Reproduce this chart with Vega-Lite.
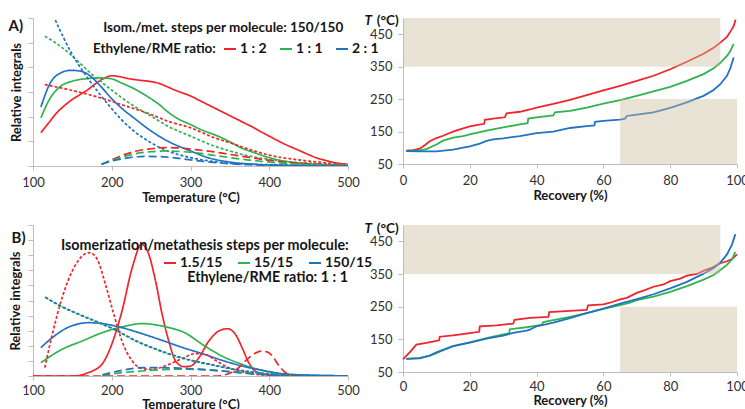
{
"$schema": "https://vega.github.io/schema/vega-lite/v6.json",
"autosize": {"type": "pad"},
"padding": {"left": 8, "top": 14, "right": 0, "bottom": 0},
"background": "white",
"bounds": "flush",
"columns": 2,
"align": "each",
"spacing": {"row": 59, "column": 55},
"config": {
  "view": {"stroke": null},
  "axis": {"grid": false, "labelOverlap": false, "labelBound": false, "labelFlush": false, "domainColor": "#bdbdbd", "tickColor": "#bdbdbd", "labelFont": "Lato", "labelFontSize": 13, "labelColor": "#303030", "titleFont": "Lato", "titleFontSize": 13, "titleFontWeight": "bold", "titleColor": "#151515", "tickSize": 4},
  "text": {"font": "Lato", "fontSize": 13.5, "fontWeight": "bold", "color": "#151515"},
  "legend": {"titleFont": "Lato", "titleFontSize": 13.5, "titleFontWeight": "bold", "titleColor": "#151515", "labelFont": "Lato", "labelFontSize": 14, "labelFontWeight": "bold", "labelColor": "#151515", "symbolType": "stroke", "symbolSize": 144, "symbolStrokeWidth": 2, "labelOffset": 3, "padding": 0}
},
"resolve": {"scale": {"color": "independent", "strokeDash": "independent"}, "legend": {"color": "independent"}},
"datasets": {
"a": [
{"s":"1 : 2","k":"s","t":110,"v":1.35},{"s":"1 : 2","k":"s","t":120,"v":1.75},{"s":"1 : 2","k":"s","t":130,"v":2.15},{"s":"1 : 2","k":"s","t":140,"v":2.45},{"s":"1 : 2","k":"s","t":150,"v":2.7},{"s":"1 : 2","k":"s","t":160,"v":2.9},{"s":"1 : 2","k":"s","t":170,"v":3.1},{"s":"1 : 2","k":"s","t":180,"v":3.35},{"s":"1 : 2","k":"s","t":190,"v":3.55},{"s":"1 : 2","k":"s","t":200,"v":3.66},{"s":"1 : 2","k":"s","t":210,"v":3.62},{"s":"1 : 2","k":"s","t":220,"v":3.55},{"s":"1 : 2","k":"s","t":230,"v":3.5},{"s":"1 : 2","k":"s","t":240,"v":3.46},{"s":"1 : 2","k":"s","t":250,"v":3.42},{"s":"1 : 2","k":"s","t":260,"v":3.35},{"s":"1 : 2","k":"s","t":270,"v":3.22},{"s":"1 : 2","k":"s","t":280,"v":3.08},{"s":"1 : 2","k":"s","t":290,"v":2.96},{"s":"1 : 2","k":"s","t":300,"v":2.84},{"s":"1 : 2","k":"s","t":310,"v":2.68},{"s":"1 : 2","k":"s","t":320,"v":2.52},{"s":"1 : 2","k":"s","t":330,"v":2.36},{"s":"1 : 2","k":"s","t":340,"v":2.2},{"s":"1 : 2","k":"s","t":350,"v":2.04},{"s":"1 : 2","k":"s","t":360,"v":1.88},{"s":"1 : 2","k":"s","t":370,"v":1.72},{"s":"1 : 2","k":"s","t":380,"v":1.56},{"s":"1 : 2","k":"s","t":390,"v":1.38},{"s":"1 : 2","k":"s","t":400,"v":1.21},{"s":"1 : 2","k":"s","t":410,"v":1.04},{"s":"1 : 2","k":"s","t":420,"v":0.88},{"s":"1 : 2","k":"s","t":430,"v":0.74},{"s":"1 : 2","k":"s","t":440,"v":0.6},{"s":"1 : 2","k":"s","t":450,"v":0.46},{"s":"1 : 2","k":"s","t":460,"v":0.33},{"s":"1 : 2","k":"s","t":470,"v":0.24},{"s":"1 : 2","k":"s","t":480,"v":0.16},{"s":"1 : 2","k":"s","t":490,"v":0.1},{"s":"1 : 2","k":"s","t":500,"v":0.06},
{"s":"1 : 1","k":"s","t":110,"v":1.95},{"s":"1 : 1","k":"s","t":122,"v":2.76},{"s":"1 : 1","k":"s","t":135,"v":3.23},{"s":"1 : 1","k":"s","t":150,"v":3.44},{"s":"1 : 1","k":"s","t":165,"v":3.53},{"s":"1 : 1","k":"s","t":186,"v":3.57},{"s":"1 : 1","k":"s","t":199,"v":3.54},{"s":"1 : 1","k":"s","t":212,"v":3.37},{"s":"1 : 1","k":"s","t":228,"v":3.14},{"s":"1 : 1","k":"s","t":250,"v":2.72},{"s":"1 : 1","k":"s","t":260,"v":2.5},{"s":"1 : 1","k":"s","t":271,"v":2.2},{"s":"1 : 1","k":"s","t":285,"v":1.9},{"s":"1 : 1","k":"s","t":300,"v":1.68},{"s":"1 : 1","k":"s","t":313,"v":1.48},{"s":"1 : 1","k":"s","t":335,"v":1.21},{"s":"1 : 1","k":"s","t":350,"v":0.98},{"s":"1 : 1","k":"s","t":364,"v":0.74},{"s":"1 : 1","k":"s","t":381,"v":0.54},{"s":"1 : 1","k":"s","t":400,"v":0.34},{"s":"1 : 1","k":"s","t":419,"v":0.2},{"s":"1 : 1","k":"s","t":435,"v":0.13},{"s":"1 : 1","k":"s","t":450,"v":0.09},{"s":"1 : 1","k":"s","t":475,"v":0.05},{"s":"1 : 1","k":"s","t":500,"v":0.03},
{"s":"2 : 1","k":"s","t":110,"v":2.39},{"s":"2 : 1","k":"s","t":122,"v":3.37},{"s":"2 : 1","k":"s","t":135,"v":3.77},{"s":"2 : 1","k":"s","t":148,"v":3.88},{"s":"2 : 1","k":"s","t":161,"v":3.84},{"s":"2 : 1","k":"s","t":173,"v":3.64},{"s":"2 : 1","k":"s","t":186,"v":3.23},{"s":"2 : 1","k":"s","t":199,"v":2.76},{"s":"2 : 1","k":"s","t":212,"v":2.36},{"s":"2 : 1","k":"s","t":228,"v":1.95},{"s":"2 : 1","k":"s","t":250,"v":1.42},{"s":"2 : 1","k":"s","t":271,"v":1.01},{"s":"2 : 1","k":"s","t":300,"v":0.61},{"s":"2 : 1","k":"s","t":322,"v":0.34},{"s":"2 : 1","k":"s","t":350,"v":0.16},{"s":"2 : 1","k":"s","t":381,"v":0.07},{"s":"2 : 1","k":"s","t":400,"v":0.04},{"s":"2 : 1","k":"s","t":450,"v":0.02},{"s":"2 : 1","k":"s","t":500,"v":0.01},
{"s":"1 : 2","k":"d","t":115,"v":3.3},{"s":"1 : 2","k":"d","t":150,"v":3.06},{"s":"1 : 2","k":"d","t":186,"v":2.76},{"s":"1 : 2","k":"d","t":212,"v":2.49},{"s":"1 : 2","k":"d","t":250,"v":2.09},{"s":"1 : 2","k":"d","t":271,"v":1.82},{"s":"1 : 2","k":"d","t":300,"v":1.55},{"s":"1 : 2","k":"d","t":330,"v":1.15},{"s":"1 : 2","k":"d","t":350,"v":0.94},{"s":"1 : 2","k":"d","t":381,"v":0.61},{"s":"1 : 2","k":"d","t":400,"v":0.44},{"s":"1 : 2","k":"d","t":432,"v":0.27},{"s":"1 : 2","k":"d","t":450,"v":0.2},{"s":"1 : 2","k":"d","t":475,"v":0.12},{"s":"1 : 2","k":"d","t":500,"v":0.07},
{"s":"1 : 1","k":"d","t":115,"v":5.26},{"s":"1 : 1","k":"d","t":135,"v":4.85},{"s":"1 : 1","k":"d","t":150,"v":4.45},{"s":"1 : 1","k":"d","t":173,"v":3.77},{"s":"1 : 1","k":"d","t":199,"v":3.1},{"s":"1 : 1","k":"d","t":228,"v":2.43},{"s":"1 : 1","k":"d","t":250,"v":2.02},{"s":"1 : 1","k":"d","t":271,"v":1.62},{"s":"1 : 1","k":"d","t":300,"v":1.21},{"s":"1 : 1","k":"d","t":330,"v":0.81},{"s":"1 : 1","k":"d","t":350,"v":0.61},{"s":"1 : 1","k":"d","t":381,"v":0.36},{"s":"1 : 1","k":"d","t":400,"v":0.27},{"s":"1 : 1","k":"d","t":432,"v":0.15},{"s":"1 : 1","k":"d","t":450,"v":0.12},{"s":"1 : 1","k":"d","t":475,"v":0.07},{"s":"1 : 1","k":"d","t":500,"v":0.04},
{"s":"2 : 1","k":"d","t":122,"v":6.5},{"s":"2 : 1","k":"d","t":127,"v":6.04},{"s":"2 : 1","k":"d","t":139,"v":5.19},{"s":"2 : 1","k":"d","t":150,"v":4.51},{"s":"2 : 1","k":"d","t":165,"v":3.77},{"s":"2 : 1","k":"d","t":182,"v":3.03},{"s":"2 : 1","k":"d","t":199,"v":2.36},{"s":"2 : 1","k":"d","t":212,"v":1.89},{"s":"2 : 1","k":"d","t":228,"v":1.42},{"s":"2 : 1","k":"d","t":250,"v":0.94},{"s":"2 : 1","k":"d","t":271,"v":0.61},{"s":"2 : 1","k":"d","t":300,"v":0.34},{"s":"2 : 1","k":"d","t":330,"v":0.18},{"s":"2 : 1","k":"d","t":350,"v":0.11},{"s":"2 : 1","k":"d","t":400,"v":0.05},{"s":"2 : 1","k":"d","t":450,"v":0.02},{"s":"2 : 1","k":"d","t":500,"v":0.01},
{"s":"1 : 2","k":"l","t":187,"v":0.07},{"s":"1 : 2","k":"l","t":200,"v":0.25},{"s":"1 : 2","k":"l","t":215,"v":0.45},{"s":"1 : 2","k":"l","t":230,"v":0.6},{"s":"1 : 2","k":"l","t":250,"v":0.7},{"s":"1 : 2","k":"l","t":270,"v":0.75},{"s":"1 : 2","k":"l","t":290,"v":0.72},{"s":"1 : 2","k":"l","t":310,"v":0.65},{"s":"1 : 2","k":"l","t":330,"v":0.57},{"s":"1 : 2","k":"l","t":350,"v":0.47},{"s":"1 : 2","k":"l","t":375,"v":0.35},{"s":"1 : 2","k":"l","t":400,"v":0.23},{"s":"1 : 2","k":"l","t":425,"v":0.14},{"s":"1 : 2","k":"l","t":450,"v":0.09},{"s":"1 : 2","k":"l","t":475,"v":0.05},{"s":"1 : 2","k":"l","t":500,"v":0.02},
{"s":"1 : 1","k":"l","t":187,"v":0.07},{"s":"1 : 1","k":"l","t":200,"v":0.22},{"s":"1 : 1","k":"l","t":215,"v":0.38},{"s":"1 : 1","k":"l","t":230,"v":0.5},{"s":"1 : 1","k":"l","t":250,"v":0.58},{"s":"1 : 1","k":"l","t":270,"v":0.61},{"s":"1 : 1","k":"l","t":290,"v":0.58},{"s":"1 : 1","k":"l","t":310,"v":0.52},{"s":"1 : 1","k":"l","t":330,"v":0.43},{"s":"1 : 1","k":"l","t":350,"v":0.34},{"s":"1 : 1","k":"l","t":375,"v":0.24},{"s":"1 : 1","k":"l","t":400,"v":0.16},{"s":"1 : 1","k":"l","t":425,"v":0.1},{"s":"1 : 1","k":"l","t":450,"v":0.06},{"s":"1 : 1","k":"l","t":500,"v":0.02},
{"s":"2 : 1","k":"l","t":187,"v":0.07},{"s":"2 : 1","k":"l","t":200,"v":0.2},{"s":"2 : 1","k":"l","t":215,"v":0.3},{"s":"2 : 1","k":"l","t":230,"v":0.37},{"s":"2 : 1","k":"l","t":245,"v":0.39},{"s":"2 : 1","k":"l","t":260,"v":0.38},{"s":"2 : 1","k":"l","t":280,"v":0.33},{"s":"2 : 1","k":"l","t":300,"v":0.25},{"s":"2 : 1","k":"l","t":325,"v":0.16},{"s":"2 : 1","k":"l","t":350,"v":0.09},{"s":"2 : 1","k":"l","t":375,"v":0.05},{"s":"2 : 1","k":"l","t":400,"v":0.03},{"s":"2 : 1","k":"l","t":450,"v":0.01},{"s":"2 : 1","k":"l","t":500,"v":0}
],
"b": [
{"s":"1.5/15","k":"s","t":100,"v":0},{"s":"1.5/15","k":"s","t":150,"v":0},{"s":"1.5/15","k":"s","t":160,"v":0.05},{"s":"1.5/15","k":"s","t":170,"v":0.22},{"s":"1.5/15","k":"s","t":180,"v":0.45},{"s":"1.5/15","k":"s","t":188,"v":0.8},{"s":"1.5/15","k":"s","t":200,"v":2.1},{"s":"1.5/15","k":"s","t":213,"v":4.3},{"s":"1.5/15","k":"s","t":226,"v":7.17},{"s":"1.5/15","k":"s","t":238,"v":8.72},{"s":"1.5/15","k":"s","t":247,"v":8.06},{"s":"1.5/15","k":"s","t":255.6,"v":6.29},{"s":"1.5/15","k":"s","t":264,"v":4.08},{"s":"1.5/15","k":"s","t":272.5,"v":2.3},{"s":"1.5/15","k":"s","t":281,"v":1.0},{"s":"1.5/15","k":"s","t":291.5,"v":0.62},{"s":"1.5/15","k":"s","t":300,"v":0.66},{"s":"1.5/15","k":"s","t":310.6,"v":1.21},{"s":"1.5/15","k":"s","t":323,"v":2.3},{"s":"1.5/15","k":"s","t":336,"v":2.98},{"s":"1.5/15","k":"s","t":347,"v":3.13},{"s":"1.5/15","k":"s","t":357,"v":2.76},{"s":"1.5/15","k":"s","t":365.5,"v":1.88},{"s":"1.5/15","k":"s","t":374,"v":0.88},{"s":"1.5/15","k":"s","t":382,"v":0.33},{"s":"1.5/15","k":"s","t":395,"v":0.11},{"s":"1.5/15","k":"s","t":410,"v":0.02},{"s":"1.5/15","k":"s","t":500,"v":0},
{"s":"15/15","k":"s","t":110,"v":0.88},{"s":"15/15","k":"s","t":137,"v":1.77},{"s":"15/15","k":"s","t":162.6,"v":2.32},{"s":"15/15","k":"s","t":188,"v":2.87},{"s":"15/15","k":"s","t":213,"v":3.25},{"s":"15/15","k":"s","t":238.7,"v":3.47},{"s":"15/15","k":"s","t":264,"v":3.31},{"s":"15/15","k":"s","t":281,"v":3.09},{"s":"15/15","k":"s","t":291.5,"v":2.9},{"s":"15/15","k":"s","t":314.8,"v":2.1},{"s":"15/15","k":"s","t":340,"v":1.32},{"s":"15/15","k":"s","t":365.5,"v":0.77},{"s":"15/15","k":"s","t":391,"v":0.38},{"s":"15/15","k":"s","t":416,"v":0.15},{"s":"15/15","k":"s","t":450,"v":0.05},{"s":"15/15","k":"s","t":500,"v":0.01},
{"s":"150/15","k":"s","t":110,"v":1.88},{"s":"150/15","k":"s","t":124.5,"v":2.54},{"s":"150/15","k":"s","t":145.7,"v":3.25},{"s":"150/15","k":"s","t":171,"v":3.53},{"s":"150/15","k":"s","t":188,"v":3.47},{"s":"150/15","k":"s","t":213,"v":3.2},{"s":"150/15","k":"s","t":238.7,"v":2.8},{"s":"150/15","k":"s","t":264,"v":2.36},{"s":"150/15","k":"s","t":289,"v":1.9},{"s":"150/15","k":"s","t":314.8,"v":1.48},{"s":"150/15","k":"s","t":340,"v":1.04},{"s":"150/15","k":"s","t":365.5,"v":0.66},{"s":"150/15","k":"s","t":391,"v":0.38},{"s":"150/15","k":"s","t":416,"v":0.15},{"s":"150/15","k":"s","t":441.7,"v":0.07},{"s":"150/15","k":"s","t":470,"v":0.03},{"s":"150/15","k":"s","t":500,"v":0.01},
{"s":"1.5/15","k":"d","t":115,"v":0.55},{"s":"1.5/15","k":"d","t":124.5,"v":2.76},{"s":"1.5/15","k":"d","t":137,"v":5.19},{"s":"1.5/15","k":"d","t":152,"v":7.17},{"s":"1.5/15","k":"d","t":162.6,"v":7.95},{"s":"1.5/15","k":"d","t":172,"v":8.17},{"s":"1.5/15","k":"d","t":181.6,"v":7.73},{"s":"1.5/15","k":"d","t":192,"v":6.07},{"s":"1.5/15","k":"d","t":202.7,"v":4.08},{"s":"1.5/15","k":"d","t":213,"v":2.32},{"s":"1.5/15","k":"d","t":226,"v":0.99},{"s":"1.5/15","k":"d","t":238.7,"v":0.49},{"s":"1.5/15","k":"d","t":251,"v":0.44},{"s":"1.5/15","k":"d","t":272.5,"v":0.77},{"s":"1.5/15","k":"d","t":291.5,"v":1.21},{"s":"1.5/15","k":"d","t":306,"v":1.48},{"s":"1.5/15","k":"d","t":319,"v":1.43},{"s":"1.5/15","k":"d","t":331.7,"v":1.04},{"s":"1.5/15","k":"d","t":348.6,"v":0.55},{"s":"1.5/15","k":"d","t":365.5,"v":0.29},{"s":"1.5/15","k":"d","t":382,"v":0.11},{"s":"1.5/15","k":"d","t":420,"v":0.02},
{"s":"15/15","k":"d","t":115,"v":5.23},{"s":"15/15","k":"d","t":137,"v":4.57},{"s":"15/15","k":"d","t":162.6,"v":3.97},{"s":"15/15","k":"d","t":188,"v":3.42},{"s":"15/15","k":"d","t":207,"v":2.98},{"s":"15/15","k":"d","t":230,"v":2.32},{"s":"15/15","k":"d","t":255.6,"v":1.77},{"s":"15/15","k":"d","t":281,"v":1.3},{"s":"15/15","k":"d","t":300,"v":1.02},{"s":"15/15","k":"d","t":325,"v":0.75},{"s":"15/15","k":"d","t":350,"v":0.48},{"s":"15/15","k":"d","t":375,"v":0.27},{"s":"15/15","k":"d","t":400,"v":0.13},{"s":"15/15","k":"d","t":425,"v":0.05},{"s":"15/15","k":"d","t":450,"v":0.02},
{"s":"150/15","k":"d","t":116,"v":5.2},{"s":"150/15","k":"d","t":137,"v":4.6},{"s":"150/15","k":"d","t":162.6,"v":4.0},{"s":"150/15","k":"d","t":188,"v":3.45},{"s":"150/15","k":"d","t":207,"v":3.0},{"s":"150/15","k":"d","t":230,"v":2.36},{"s":"150/15","k":"d","t":255.6,"v":1.8},{"s":"150/15","k":"d","t":281,"v":1.34},{"s":"150/15","k":"d","t":300,"v":1.06},{"s":"150/15","k":"d","t":325,"v":0.78},{"s":"150/15","k":"d","t":350,"v":0.5},{"s":"150/15","k":"d","t":375,"v":0.29},{"s":"150/15","k":"d","t":400,"v":0.14},{"s":"150/15","k":"d","t":425,"v":0.06},{"s":"150/15","k":"d","t":450,"v":0.02},
{"s":"1.5/15","k":"l","t":100,"v":0},{"s":"1.5/15","k":"l","t":330,"v":0},{"s":"1.5/15","k":"l","t":345,"v":0.1},{"s":"1.5/15","k":"l","t":360,"v":0.5},{"s":"1.5/15","k":"l","t":372,"v":1.1},{"s":"1.5/15","k":"l","t":382,"v":1.5},{"s":"1.5/15","k":"l","t":390,"v":1.65},{"s":"1.5/15","k":"l","t":398,"v":1.58},{"s":"1.5/15","k":"l","t":405,"v":1.25},{"s":"1.5/15","k":"l","t":412,"v":0.7},{"s":"1.5/15","k":"l","t":420,"v":0.25},{"s":"1.5/15","k":"l","t":428,"v":0.04},{"s":"1.5/15","k":"l","t":440,"v":0},
{"s":"15/15","k":"l","t":188,"v":0.03},{"s":"15/15","k":"l","t":213,"v":0.22},{"s":"15/15","k":"l","t":238.7,"v":0.33},{"s":"15/15","k":"l","t":264,"v":0.42},{"s":"15/15","k":"l","t":289,"v":0.46},{"s":"15/15","k":"l","t":315,"v":0.42},{"s":"15/15","k":"l","t":340,"v":0.33},{"s":"15/15","k":"l","t":365,"v":0.2},{"s":"15/15","k":"l","t":391,"v":0.1},{"s":"15/15","k":"l","t":420,"v":0.03},{"s":"15/15","k":"l","t":450,"v":0},
{"s":"150/15","k":"l","t":188,"v":0.07},{"s":"150/15","k":"l","t":213,"v":0.38},{"s":"150/15","k":"l","t":238.7,"v":0.55},{"s":"150/15","k":"l","t":264,"v":0.55},{"s":"150/15","k":"l","t":289,"v":0.51},{"s":"150/15","k":"l","t":314.8,"v":0.44},{"s":"150/15","k":"l","t":340,"v":0.33},{"s":"150/15","k":"l","t":365.5,"v":0.22},{"s":"150/15","k":"l","t":391,"v":0.11},{"s":"150/15","k":"l","t":420,"v":0.04},{"s":"150/15","k":"l","t":450,"v":0.01}
],
"c": [
{"s":"1 : 2","r":1,"T":91},{"s":"1 : 2","r":3,"T":93},{"s":"1 : 2","r":5,"T":97},{"s":"1 : 2","r":6.5,"T":108},{"s":"1 : 2","r":8,"T":120},{"s":"1 : 2","r":10,"T":130},{"s":"1 : 2","r":12,"T":137},{"s":"1 : 2","r":15,"T":150},{"s":"1 : 2","r":18,"T":160},{"s":"1 : 2","r":20,"T":166},{"s":"1 : 2","r":22,"T":170},{"s":"1 : 2","r":24.3,"T":174},{"s":"1 : 2","r":24.5,"T":186},{"s":"1 : 2","r":27,"T":190},{"s":"1 : 2","r":30.5,"T":194},{"s":"1 : 2","r":31,"T":206},{"s":"1 : 2","r":35,"T":211},{"s":"1 : 2","r":38,"T":218},{"s":"1 : 2","r":40,"T":224},{"s":"1 : 2","r":45,"T":235},{"s":"1 : 2","r":50,"T":248},{"s":"1 : 2","r":55,"T":262},{"s":"1 : 2","r":60,"T":277},{"s":"1 : 2","r":65,"T":291},{"s":"1 : 2","r":70,"T":306},{"s":"1 : 2","r":75,"T":322},{"s":"1 : 2","r":80,"T":342},{"s":"1 : 2","r":85,"T":365},{"s":"1 : 2","r":90,"T":390},{"s":"1 : 2","r":93,"T":408},{"s":"1 : 2","r":95,"T":424},{"s":"1 : 2","r":97,"T":442},{"s":"1 : 2","r":98,"T":458},{"s":"1 : 2","r":99,"T":475},{"s":"1 : 2","r":99.6,"T":495},
{"s":"1 : 1","r":1,"T":90},{"s":"1 : 1","r":5,"T":92},{"s":"1 : 1","r":7,"T":96},{"s":"1 : 1","r":10,"T":110},{"s":"1 : 1","r":12,"T":122},{"s":"1 : 1","r":15,"T":131},{"s":"1 : 1","r":18,"T":136},{"s":"1 : 1","r":20,"T":141},{"s":"1 : 1","r":25,"T":153},{"s":"1 : 1","r":30,"T":163},{"s":"1 : 1","r":35,"T":172},{"s":"1 : 1","r":37.3,"T":176},{"s":"1 : 1","r":37.5,"T":190},{"s":"1 : 1","r":40,"T":194},{"s":"1 : 1","r":45,"T":200},{"s":"1 : 1","r":45.5,"T":209},{"s":"1 : 1","r":50,"T":214},{"s":"1 : 1","r":55,"T":224},{"s":"1 : 1","r":60,"T":236},{"s":"1 : 1","r":65,"T":247},{"s":"1 : 1","r":70,"T":260},{"s":"1 : 1","r":75,"T":274},{"s":"1 : 1","r":80,"T":288},{"s":"1 : 1","r":85,"T":306},{"s":"1 : 1","r":90,"T":327},{"s":"1 : 1","r":93,"T":345},{"s":"1 : 1","r":95,"T":362},{"s":"1 : 1","r":97,"T":383},{"s":"1 : 1","r":98,"T":398},{"s":"1 : 1","r":99,"T":420},
{"s":"2 : 1","r":1,"T":90},{"s":"2 : 1","r":5,"T":89},{"s":"2 : 1","r":10,"T":89},{"s":"2 : 1","r":15,"T":94},{"s":"2 : 1","r":20,"T":104},{"s":"2 : 1","r":23,"T":113},{"s":"2 : 1","r":25,"T":121},{"s":"2 : 1","r":27,"T":126},{"s":"2 : 1","r":30,"T":129},{"s":"2 : 1","r":35,"T":136},{"s":"2 : 1","r":40,"T":145},{"s":"2 : 1","r":45,"T":150},{"s":"2 : 1","r":50,"T":161},{"s":"2 : 1","r":55,"T":167},{"s":"2 : 1","r":57.3,"T":169},{"s":"2 : 1","r":57.5,"T":180},{"s":"2 : 1","r":60,"T":183},{"s":"2 : 1","r":65,"T":187},{"s":"2 : 1","r":66.5,"T":190},{"s":"2 : 1","r":67,"T":198},{"s":"2 : 1","r":70,"T":202},{"s":"2 : 1","r":75,"T":209},{"s":"2 : 1","r":80,"T":223},{"s":"2 : 1","r":85,"T":240},{"s":"2 : 1","r":88,"T":252},{"s":"2 : 1","r":90,"T":260},{"s":"2 : 1","r":93,"T":278},{"s":"2 : 1","r":95,"T":296},{"s":"2 : 1","r":97,"T":322},{"s":"2 : 1","r":98,"T":345},{"s":"2 : 1","r":99,"T":378}
],
"d": [
{"s":"1.5/15","r":0,"T":89},{"s":"1.5/15","r":2,"T":110},{"s":"1.5/15","r":4,"T":134},{"s":"1.5/15","r":7,"T":139},{"s":"1.5/15","r":10,"T":145},{"s":"1.5/15","r":10.8,"T":147},{"s":"1.5/15","r":11,"T":158},{"s":"1.5/15","r":15,"T":162},{"s":"1.5/15","r":20,"T":169},{"s":"1.5/15","r":22.8,"T":173},{"s":"1.5/15","r":23,"T":190},{"s":"1.5/15","r":28,"T":193},{"s":"1.5/15","r":33,"T":198},{"s":"1.5/15","r":33.4,"T":210},{"s":"1.5/15","r":38,"T":216},{"s":"1.5/15","r":43.5,"T":219},{"s":"1.5/15","r":43.8,"T":233},{"s":"1.5/15","r":50,"T":237},{"s":"1.5/15","r":55,"T":240},{"s":"1.5/15","r":55.4,"T":254},{"s":"1.5/15","r":60,"T":257},{"s":"1.5/15","r":62,"T":262},{"s":"1.5/15","r":65,"T":272},{"s":"1.5/15","r":67,"T":277},{"s":"1.5/15","r":70,"T":292},{"s":"1.5/15","r":72,"T":299},{"s":"1.5/15","r":75,"T":311},{"s":"1.5/15","r":78,"T":318},{"s":"1.5/15","r":80,"T":328},{"s":"1.5/15","r":83,"T":336},{"s":"1.5/15","r":85,"T":345},{"s":"1.5/15","r":88,"T":350},{"s":"1.5/15","r":90,"T":360},{"s":"1.5/15","r":92,"T":367},{"s":"1.5/15","r":95,"T":383},{"s":"1.5/15","r":97,"T":389},{"s":"1.5/15","r":98.5,"T":396},{"s":"1.5/15","r":100,"T":410},
{"s":"15/15","r":1,"T":90},{"s":"15/15","r":5,"T":93},{"s":"15/15","r":8,"T":100},{"s":"15/15","r":10,"T":108},{"s":"15/15","r":12,"T":117},{"s":"15/15","r":15,"T":129},{"s":"15/15","r":20,"T":141},{"s":"15/15","r":25,"T":154},{"s":"15/15","r":30,"T":165},{"s":"15/15","r":31.8,"T":169},{"s":"15/15","r":32,"T":181},{"s":"15/15","r":37,"T":187},{"s":"15/15","r":40,"T":192},{"s":"15/15","r":41.5,"T":194},{"s":"15/15","r":42,"T":203},{"s":"15/15","r":45,"T":209},{"s":"15/15","r":50,"T":219},{"s":"15/15","r":55,"T":230},{"s":"15/15","r":60,"T":243},{"s":"15/15","r":65,"T":255},{"s":"15/15","r":68,"T":262},{"s":"15/15","r":70,"T":270},{"s":"15/15","r":75,"T":281},{"s":"15/15","r":80,"T":295},{"s":"15/15","r":85,"T":313},{"s":"15/15","r":90,"T":333},{"s":"15/15","r":93,"T":347},{"s":"15/15","r":95,"T":362},{"s":"15/15","r":97,"T":378},{"s":"15/15","r":98.5,"T":395},{"s":"15/15","r":99.5,"T":418},
{"s":"150/15","r":1,"T":90},{"s":"150/15","r":5,"T":92},{"s":"150/15","r":8,"T":100},{"s":"150/15","r":10,"T":110},{"s":"150/15","r":12,"T":118},{"s":"150/15","r":15,"T":129},{"s":"150/15","r":20,"T":140},{"s":"150/15","r":25,"T":152},{"s":"150/15","r":30,"T":161},{"s":"150/15","r":33,"T":170},{"s":"150/15","r":37,"T":177},{"s":"150/15","r":38,"T":180},{"s":"150/15","r":40,"T":190},{"s":"150/15","r":45,"T":201},{"s":"150/15","r":50,"T":215},{"s":"150/15","r":55,"T":230},{"s":"150/15","r":60,"T":244},{"s":"150/15","r":65,"T":259},{"s":"150/15","r":70,"T":273},{"s":"150/15","r":75,"T":288},{"s":"150/15","r":80,"T":306},{"s":"150/15","r":85,"T":326},{"s":"150/15","r":90,"T":351},{"s":"150/15","r":93,"T":368},{"s":"150/15","r":95,"T":385},{"s":"150/15","r":97,"T":410},{"s":"150/15","r":98.5,"T":440},{"s":"150/15","r":99.5,"T":472}
],
"zones": [{"x0":0,"x1":95,"y0":350,"y1":500},{"x0":65,"x1":100,"y0":50,"y1":250}]
},
"concat": [
{
 "width": 315, "height": 148,
 "layer": [
  {"data": {"name": "a"},
   "mark": {"type": "line", "clip": true, "strokeWidth": 1.7, "interpolate": "monotone"},
   "encoding": {
    "x": {"field": "t", "type": "quantitative", "scale": {"domain": [100, 500], "nice": false, "zero": false}, "axis": {"values": [100, 200, 300, 400, 500], "labelOverlap": false, "title": "Temperature (°C)", "labelPadding": 6, "titlePadding": 2}},
    "y": {"field": "v", "type": "quantitative", "scale": {"domain": [0, 6], "nice": false}, "axis": {"values": [0, 1, 2, 3, 4, 5, 6], "labels": false, "title": "Relative integrals", "tickSize": 5, "titlePadding": 4}},
    "color": {"field": "s", "type": "nominal", "scale": {"domain": ["1 : 2", "1 : 1", "2 : 1"], "range": ["#f0242a", "#2fb350", "#2272c2"]}, "legend": {"orient": "none", "legendX": 60, "legendY": 24, "direction": "horizontal", "title": "Ethylene/RME ratio:", "titleOrient": "left", "titlePadding": 7, "columnPadding": 9}},
    "strokeDash": {"field": "k", "type": "nominal", "scale": {"domain": ["s", "d", "l"], "range": [[1, 0], [3, 2], [8, 4]]}, "legend": null}
   }},
  {"data": {"values": [{}]}, "mark": {"type": "text", "align": "left", "baseline": "middle", "fontSize": 15}, "encoding": {"x": {"datum": 69, "axis": {"values": [100, 200, 300, 400, 500], "labelOverlap": false, "title": "Temperature (°C)"}}, "y": {"datum": 5.67, "axis": {"values": [0, 1, 2, 3, 4, 5, 6], "labels": false, "title": "Relative integrals"}}, "text": {"value": "A)"}}},
  {"data": {"values": [{}]}, "mark": {"type": "text", "align": "right", "baseline": "middle"}, "encoding": {"x": {"datum": 494, "axis": {"values": [100, 200, 300, 400, 500], "labelOverlap": false, "title": "Temperature (°C)"}}, "y": {"datum": 5.6, "axis": {"values": [0, 1, 2, 3, 4, 5, 6], "labels": false, "title": "Relative integrals"}}, "text": {"value": "Isom./met. steps per molecule: 150/150"}}}
 ]
},
{
 "width": 334, "height": 146,
 "layer": [
  {"data": {"name": "c"},
   "mark": {"type": "line", "strokeWidth": 1.8},
   "encoding": {
    "x": {"field": "r", "type": "quantitative", "scale": {"domain": [0, 100], "nice": false}, "axis": {"values": [0, 20, 40, 60, 80, 100], "labelOverlap": false, "title": "Recovery (%)", "labelPadding": 6, "titlePadding": 2}},
    "y": {"field": "T", "type": "quantitative", "scale": {"domain": [50, 500], "nice": false, "zero": false}, "axis": {"values": [50, 150, 250, 350, 450], "labelOverlap": false, "title": null, "tickSize": 5, "labelPadding": 6}},
    "color": {"field": "s", "type": "nominal", "scale": {"domain": ["1 : 2", "1 : 1", "2 : 1"], "range": ["#f0242a", "#2fb350", "#2272c2"]}, "legend": null}
   }},
  {"data": {"name": "zones"}, "mark": {"type": "rect", "color": "#c9bd9b", "opacity": 0.42}, "encoding": {"x": {"field": "x0", "type": "quantitative", "axis": {"values": [0, 20, 40, 60, 80, 100], "labelOverlap": false, "title": "Recovery (%)"}}, "x2": {"field": "x1"}, "y": {"field": "y0", "type": "quantitative", "axis": {"values": [50, 150, 250, 350, 450], "labelOverlap": false, "title": null}}, "y2": {"field": "y1"}}},
  {"data": {"values": [{}]}, "mark": {"type": "text", "align": "left", "baseline": "middle", "fontStyle": "italic"}, "encoding": {"x": {"datum": -11.5, "axis": {"values": [0, 20, 40, 60, 80, 100], "labelOverlap": false, "title": "Recovery (%)"}}, "y": {"datum": 490, "axis": {"values": [50, 150, 250, 350, 450], "labelOverlap": false, "title": null}}, "text": {"value": "T"}}},
  {"data": {"values": [{}]}, "mark": {"type": "text", "align": "right", "baseline": "middle"}, "encoding": {"x": {"datum": -1.3, "axis": {"values": [0, 20, 40, 60, 80, 100], "labelOverlap": false, "title": "Recovery (%)"}}, "y": {"datum": 490, "axis": {"values": [50, 150, 250, 350, 450], "labelOverlap": false, "title": null}}, "text": {"value": "(°C)"}}}
 ]
},
{
 "width": 315, "height": 151,
 "layer": [
  {"data": {"name": "b"},
   "mark": {"type": "line", "clip": true, "strokeWidth": 1.7, "interpolate": "monotone"},
   "encoding": {
    "x": {"field": "t", "type": "quantitative", "scale": {"domain": [100, 500], "nice": false, "zero": false}, "axis": {"values": [100, 200, 300, 400, 500], "labelOverlap": false, "title": "Temperature (°C)", "labelPadding": 4, "titlePadding": 1}},
    "y": {"field": "v", "type": "quantitative", "scale": {"domain": [0, 10], "nice": false}, "axis": {"values": [0, 1, 2, 3, 4, 5, 6, 7, 8, 9, 10], "labels": false, "title": "Relative integrals", "tickSize": 5, "titlePadding": 5}},
    "color": {"field": "s", "type": "nominal", "scale": {"domain": ["1.5/15", "15/15", "150/15"], "range": ["#f0242a", "#2fb350", "#2272c2"]}, "legend": {"orient": "none", "legendX": 130, "legendY": 31, "direction": "horizontal", "title": null, "columnPadding": 11}},
    "strokeDash": {"field": "k", "type": "nominal", "scale": {"domain": ["s", "d", "l"], "range": [[1, 0], [3, 2], [8, 4]]}, "legend": null}
   }},
  {"data": {"values": [{}]}, "mark": {"type": "text", "align": "left", "baseline": "middle", "fontSize": 15}, "encoding": {"x": {"datum": 72.7, "axis": {"values": [100, 200, 300, 400, 500], "labelOverlap": false, "title": "Temperature (°C)"}}, "y": {"datum": 9.14, "axis": {"values": [0, 1, 2, 3, 4, 5, 6, 7, 8, 9, 10], "labels": false, "title": "Relative integrals"}}, "text": {"value": "B)"}}},
  {"data": {"values": [{}]}, "mark": {"type": "text", "align": "right", "baseline": "middle", "fontSize": 14.3}, "encoding": {"x": {"datum": 501, "axis": {"values": [100, 200, 300, 400, 500], "labelOverlap": false, "title": "Temperature (°C)"}}, "y": {"datum": 8.6, "axis": {"values": [0, 1, 2, 3, 4, 5, 6, 7, 8, 9, 10], "labels": false, "title": "Relative integrals"}}, "text": {"value": "Isomerization/metathesis steps per molecule:"}}},
  {"data": {"values": [{}]}, "mark": {"type": "text", "align": "right", "baseline": "middle", "fontSize": 14.3}, "encoding": {"x": {"datum": 500, "axis": {"values": [100, 200, 300, 400, 500], "labelOverlap": false, "title": "Temperature (°C)"}}, "y": {"datum": 6.49, "axis": {"values": [0, 1, 2, 3, 4, 5, 6, 7, 8, 9, 10], "labels": false, "title": "Relative integrals"}}, "text": {"value": "Ethylene/RME ratio:  1 : 1"}}}
 ]
},
{
 "width": 334, "height": 147,
 "layer": [
  {"data": {"name": "d"},
   "mark": {"type": "line", "strokeWidth": 1.8},
   "encoding": {
    "x": {"field": "r", "type": "quantitative", "scale": {"domain": [0, 100], "nice": false}, "axis": {"values": [0, 20, 40, 60, 80, 100], "labelOverlap": false, "title": "Recovery (%)", "labelPadding": 4, "titlePadding": 1}},
    "y": {"field": "T", "type": "quantitative", "scale": {"domain": [50, 500], "nice": false, "zero": false}, "axis": {"values": [50, 150, 250, 350, 450], "labelOverlap": false, "title": null, "tickSize": 5, "labelPadding": 6}},
    "color": {"field": "s", "type": "nominal", "scale": {"domain": ["1.5/15", "15/15", "150/15"], "range": ["#f0242a", "#2fb350", "#2272c2"]}, "legend": null}
   }},
  {"data": {"name": "zones"}, "mark": {"type": "rect", "color": "#c9bd9b", "opacity": 0.42}, "encoding": {"x": {"field": "x0", "type": "quantitative", "axis": {"values": [0, 20, 40, 60, 80, 100], "labelOverlap": false, "title": "Recovery (%)"}}, "x2": {"field": "x1"}, "y": {"field": "y0", "type": "quantitative", "axis": {"values": [50, 150, 250, 350, 450], "labelOverlap": false, "title": null}}, "y2": {"field": "y1"}}},
  {"data": {"values": [{}]}, "mark": {"type": "text", "align": "left", "baseline": "middle", "fontStyle": "italic"}, "encoding": {"x": {"datum": -11.5, "axis": {"values": [0, 20, 40, 60, 80, 100], "labelOverlap": false, "title": "Recovery (%)"}}, "y": {"datum": 488, "axis": {"values": [50, 150, 250, 350, 450], "labelOverlap": false, "title": null}}, "text": {"value": "T"}}},
  {"data": {"values": [{}]}, "mark": {"type": "text", "align": "right", "baseline": "middle"}, "encoding": {"x": {"datum": -1.3, "axis": {"values": [0, 20, 40, 60, 80, 100], "labelOverlap": false, "title": "Recovery (%)"}}, "y": {"datum": 488, "axis": {"values": [50, 150, 250, 350, 450], "labelOverlap": false, "title": null}}, "text": {"value": "(°C)"}}}
 ]
}
]
}
